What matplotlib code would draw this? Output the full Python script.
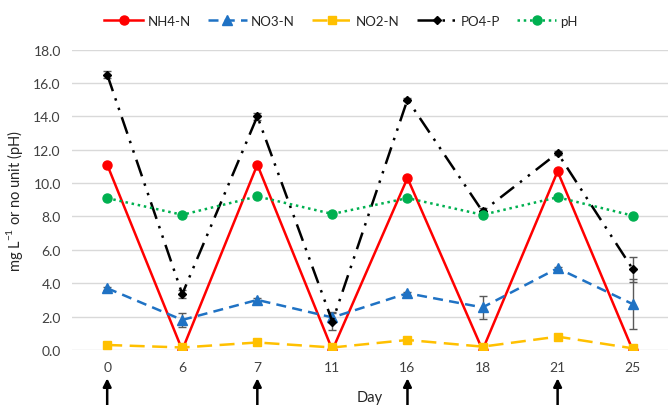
import numpy as np
import matplotlib.pyplot as plt

plt.rcParams['font.family'] = ['Lato', 'DejaVu Sans']

days = ['0', '6', '7', '11', '16', '18', '21', '25']
nh4 = [11.1, 0.0, 11.1, 0.0, 10.3, 0.0, 10.7, 0.0]
no3 = [3.7, 1.8, 3.0, 1.95, 3.4, 2.55, 4.9, 2.75]
no3_err = [0.1, 0.4, 0.1, 0.3, 0.1, 0.7, 0.1, 1.5]
no2 = [0.3, 0.15, 0.45, 0.15, 0.6, 0.2, 0.8, 0.1]
po4 = [16.5, 3.35, 14.0, 1.7, 15.0, 8.3, 11.8, 4.85]
po4_err = [0.2, 0.25, 0.2, 0.5, 0.1, 0.2, 0.1, 0.75]
ph = [9.1, 8.1, 9.2, 8.15, 9.1, 8.1, 9.15, 8.05]
feed_days = [0, 2, 4, 6]  # positions of the arrows (days 0, 7, 16, 21)

x = np.arange(len(days))

fig = plt.figure(figsize=(6.72, 4.06), dpi=100)
ax = fig.add_axes([0.107, 0.1355, 0.887, 0.74])

# error bars first, lines on top
ax.errorbar(x, no3, yerr=no3_err, fmt='none', ecolor='#595959', elinewidth=1, capsize=3, zorder=2)
ax.errorbar(x, po4, yerr=po4_err, fmt='none', ecolor='#595959', elinewidth=1, capsize=3, zorder=2)

h1, = ax.plot(x, nh4, color='#FF0000', lw=1.8, marker='o', ms=6.5, label='NH4-N', zorder=3)
h2, = ax.plot(x, no3, color='#1F72C4', lw=1.8, ls=(0, (4, 2.5)), marker='^', ms=6.5, label='NO3-N', zorder=4)
h3, = ax.plot(x, no2, color='#FFC000', lw=1.8, ls=(0, (6, 3)), marker='s', ms=6, label='NO2-N', zorder=5)
h4, = ax.plot(x, po4, color='black', lw=1.8, ls=(0, (7, 3, 1, 3, 1, 3)), marker='D', ms=4.5,
              label='PO4-P', zorder=6)
h5, = ax.plot(x, ph, color='#00B050', lw=1.8, ls=(0, (1, 1.5)), marker='o', ms=6.5, label='pH', zorder=7)

ax.set_ylim(0, 18)
ax.set_xlim(-0.47, 7.47)
ax.set_yticks(np.arange(0, 18.1, 2))
ax.set_yticklabels([f'{v:.1f}' for v in np.arange(0, 18.1, 2)])
ax.set_xticks(x)
ax.set_xticklabels(days)
ax.grid(axis='y', color='#D9D9D9', lw=1)
ax.set_axisbelow(True)
for s in ax.spines.values():
    s.set_visible(False)
ax.tick_params(length=0, labelsize=10, colors='#404040', pad=8)
ax.set_ylabel('mg L$^{\\mathregular{-1}}$ or no unit (pH)', fontsize=10.5, color='#262626', labelpad=6)
ax.set_xlabel('Day', fontsize=10.5, color='#262626', labelpad=12)

for d in feed_days:
    ax.annotate('', xy=(d, -0.085), xycoords=('data', 'axes fraction'),
                xytext=(d, -0.2), textcoords=('data', 'axes fraction'),
                arrowprops=dict(arrowstyle='-|>', color='black', lw=1.8, mutation_scale=12),
                annotation_clip=False)

leg = ax.legend(handles=[h1, h2, h3, h4, h5], loc='center', bbox_to_anchor=(0.451, 1.096), ncol=5,
                frameon=False, fontsize=9.5, handlelength=3.0, columnspacing=1.3, handletextpad=0.3)
for t in leg.get_texts():
    t.set_color('#262626')

fig.savefig('out.png', dpi=100)
